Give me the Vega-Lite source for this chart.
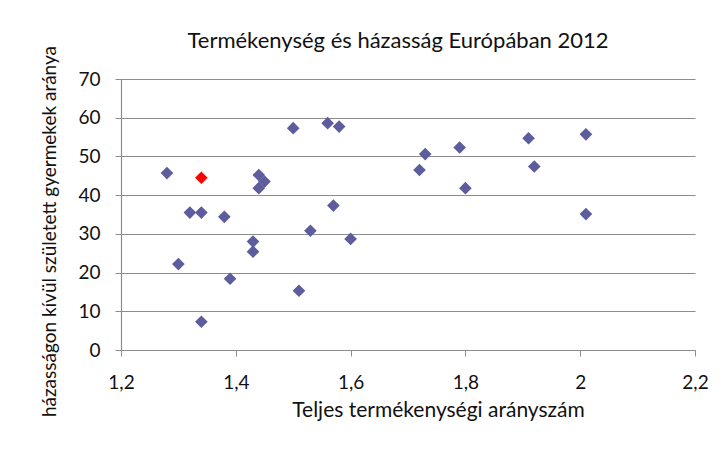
{
  "$schema": "https://vega.github.io/schema/vega-lite/v6.json",
  "autosize": {"type": "none"},
  "width": 574,
  "height": 271,
  "padding": {"left": 121, "top": 79, "right": 32, "bottom": 114},
  "background": "white",
  "config": {
    "view": {"stroke": null},
    "font": "Lato"
  },
  "title": {
    "text": "Termékenység és házasság Európában 2012",
    "fontSize": 22,
    "font": "Lato",
    "fontWeight": "normal",
    "color": "#111",
    "anchor": "middle",
    "dx": -10,
    "dy": 34,
    "offset": 26
  },
  "data": {
    "values": [
      {"tfr": 1.28, "share": 45.7, "grp": "other"},
      {"tfr": 1.32, "share": 35.5, "grp": "other"},
      {"tfr": 1.34, "share": 35.5, "grp": "other"},
      {"tfr": 1.38, "share": 34.4, "grp": "other"},
      {"tfr": 1.30, "share": 22.2, "grp": "other"},
      {"tfr": 1.39, "share": 18.4, "grp": "other"},
      {"tfr": 1.34, "share": 7.3, "grp": "other"},
      {"tfr": 1.43, "share": 28.0, "grp": "other"},
      {"tfr": 1.43, "share": 25.4, "grp": "other"},
      {"tfr": 1.44, "share": 45.2, "grp": "other"},
      {"tfr": 1.45, "share": 43.5, "grp": "other"},
      {"tfr": 1.44, "share": 41.8, "grp": "other"},
      {"tfr": 1.50, "share": 57.3, "grp": "other"},
      {"tfr": 1.56, "share": 58.6, "grp": "other"},
      {"tfr": 1.58, "share": 57.7, "grp": "other"},
      {"tfr": 1.57, "share": 37.3, "grp": "other"},
      {"tfr": 1.53, "share": 30.8, "grp": "other"},
      {"tfr": 1.60, "share": 28.7, "grp": "other"},
      {"tfr": 1.51, "share": 15.3, "grp": "other"},
      {"tfr": 1.73, "share": 50.6, "grp": "other"},
      {"tfr": 1.72, "share": 46.5, "grp": "other"},
      {"tfr": 1.79, "share": 52.3, "grp": "other"},
      {"tfr": 1.80, "share": 41.8, "grp": "other"},
      {"tfr": 1.91, "share": 54.7, "grp": "other"},
      {"tfr": 1.92, "share": 47.4, "grp": "other"},
      {"tfr": 2.01, "share": 55.7, "grp": "other"},
      {"tfr": 2.01, "share": 35.1, "grp": "other"},
      {"tfr": 1.34, "share": 44.5, "grp": "hu"}
    ]
  },
  "mark": {"type": "point", "shape": "diamond", "filled": true, "size": 160, "opacity": 1},
  "encoding": {
    "x": {
      "field": "tfr",
      "type": "quantitative",
      "scale": {"domain": [1.2, 2.2], "nice": false, "zero": false},
      "axis": {
        "values": [1.2, 1.4, 1.6, 1.8, 2.0, 2.2],
        "format": "~g",
        "labelExpr": "replace(datum.label, '.', ',')",
        "grid": false,
        "domainColor": "#8c8c8c",
        "domainWidth": 1.2,
        "tickColor": "#8c8c8c",
        "tickSize": 6,
        "labelPadding": 17,
        "labelFontSize": 19,
        "labelFont": "Lato",
        "labelColor": "#111",
        "labelFlush": false,
        "title": "Teljes termékenységi arányszám",
        "titleFont": "Lato",
        "titleFontSize": 21,
        "titleFontWeight": "normal",
        "titleColor": "#111",
        "titleX": 317,
        "titleY": 60,
        "titleBaseline": "middle"
      }
    },
    "y": {
      "field": "share",
      "type": "quantitative",
      "scale": {"domain": [0, 70], "nice": false},
      "axis": {
        "values": [0, 10, 20, 30, 40, 50, 60, 70],
        "grid": true,
        "gridColor": "#8c8c8c",
        "gridWidth": 1.2,
        "domainColor": "#8c8c8c",
        "domainWidth": 1.2,
        "tickColor": "#8c8c8c",
        "tickSize": 6,
        "labelPadding": 15,
        "labelFontSize": 19,
        "labelFont": "Lato",
        "labelColor": "#111",
        "title": "házasságon kívül született gyermekek aránya",
        "titleFont": "Lato",
        "titleFontSize": 19,
        "titleFontWeight": "normal",
        "titleColor": "#111",
        "titleX": -72,
        "titleY": 152,
        "titleAngle": -90,
        "titleBaseline": "middle"
      }
    },
    "color": {
      "field": "grp",
      "type": "nominal",
      "scale": {"domain": ["other", "hu"], "range": ["#5D5D9E", "#FF0000"]},
      "legend": null
    },
    "order": {"field": "grp", "sort": "descending"}
  }
}
